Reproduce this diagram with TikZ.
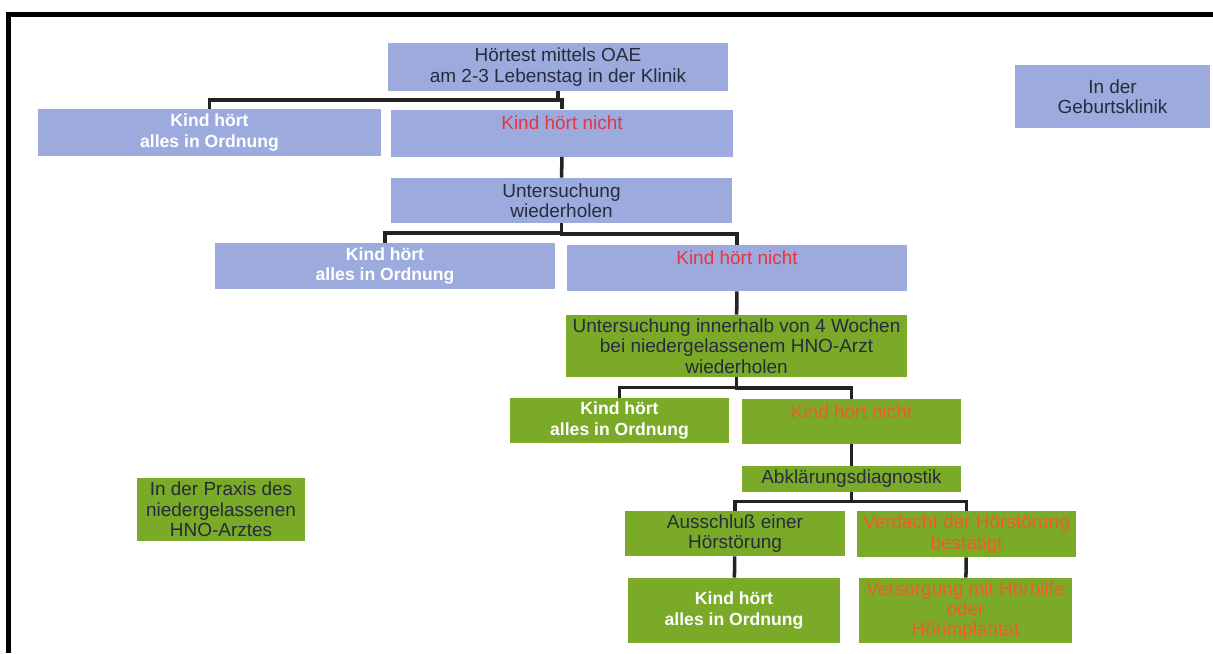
\documentclass[tikz,border=0pt]{standalone}
\usepackage{fontspec}
\setmainfont{Liberation Sans}
\usepackage{tikz}
\usetikzlibrary{calc}
\usepackage{xcolor}

\definecolor{klinikblue}{RGB}{157,170,222}
\definecolor{praxisgreen}{RGB}{122,170,40}
\definecolor{darktext}{RGB}{38,44,60}
\definecolor{alarmred}{RGB}{232,52,62}
\definecolor{alarmorange}{RGB}{240,92,40}
\definecolor{linegray}{RGB}{35,35,35}

\tikzset{
  box/.style={rectangle, inner sep=0pt, align=center, font=\fontsize{10.8}{11.6}\selectfont},
  bluebox/.style={box, fill=klinikblue, text=darktext},
  greenbox/.style={box, fill=praxisgreen, text=darktext},
  okbox/.style={text=white, font=\fontsize{10}{11.6}\selectfont\bfseries},
  conn/.style={line width=2pt, draw=linegray},
  elbow/.style={to path={(\tikztostart) |- ($(\tikztostart)!.5!(\tikztotarget)$) -| (\tikztotarget)}}
}

\begin{document}
\begin{tikzpicture}[x=0.02cm, y=-0.02cm]
  \useasboundingbox (0,0) rectangle (1213,653);

  % frame
  \draw[line width=2.3pt] (8.5,653) |- (1213,14.5);

  % in der Geburtsklinik
  \node[bluebox, minimum width=6.8cm, minimum height=0.96cm] (test) at (558,67)
  {Hörtest mittels OAE\\am 2-3 Lebenstag in der Klinik};
  \node[bluebox, okbox, minimum width=6.86cm, minimum height=0.94cm] (ok1) at (209.5,132.5)
  {Kind hört\\alles in Ordnung};
  \node[bluebox, text=alarmred, minimum width=6.84cm, minimum height=0.94cm] (nicht1) at (562,133)
  {Kind hört nicht\\\phantom{A}};
  \node[bluebox, minimum width=6.82cm, minimum height=0.9cm] (wdh) at (561.5,200.5)
  {Untersuchung\\wiederholen};
  \node[bluebox, okbox, minimum width=6.8cm, minimum height=0.92cm] (ok2) at (385,266)
  {Kind hört\\alles in Ordnung};
  \node[bluebox, text=alarmred, minimum width=6.8cm, minimum height=0.92cm] (nicht2) at (737,268)
  {Kind hört nicht\\\phantom{A}};

  % beim HNO-Arzt
  \node[greenbox, minimum width=6.82cm, minimum height=1.24cm] (hno) at (736.5,346)
  {Untersuchung innerhalb von 4 Wochen\\bei niedergelassenem HNO-Arzt\\wiederholen};
  \node[greenbox, okbox, minimum width=4.38cm, minimum height=0.9cm] (ok3) at (619.5,420.5)
  {Kind hört\\alles in Ordnung};
  \node[greenbox, text=alarmorange, minimum width=4.38cm, minimum height=0.9cm] (nicht3) at (851.5,421.5)
  {Kind hört nicht\\\phantom{A}};
  \node[greenbox, minimum width=4.38cm, minimum height=0.52cm] (abkl) at (851.5,479)
  {Abklärungsdiagnostik};
  \node[greenbox, minimum width=4.4cm, minimum height=0.9cm] (aus) at (735,533.5)
  {Ausschluß einer\\Hörstörung};
  \node[greenbox, text=alarmorange, minimum width=4.38cm, minimum height=0.92cm] (verd) at (966.5,534)
  {Verdacht der Hörstörung\\bestätigt};
  \node[greenbox, okbox, minimum width=4.24cm, minimum height=1.3cm] (ok4) at (734,610.5)
  {Kind hört\\alles in Ordnung};
  \node[greenbox, text=alarmorange, minimum width=4.26cm, minimum height=1.3cm] (vers) at (965.5,610.5)
  {Versorgung mit Hörhilfe\\oder\\Hörimplantat};

  % legend boxes
  \node[bluebox, minimum width=3.9cm, minimum height=1.26cm] (geb) at (1112.5,96.5)
  {In der\\Geburtsklinik};
  \node[greenbox, minimum width=3.36cm, minimum height=1.26cm] (praxis) at (221,509.5)
  {In der Praxis des\\niedergelassenen\\HNO-Arztes};

  % connectors
  \draw[conn] (test.south) to[elbow] (ok1.north);
  \draw[conn] (test.south) to[elbow] (nicht1.north);
  \draw[conn] (nicht1) -- (wdh);
  \draw[conn] (wdh.south) to[elbow] (ok2.north);
  \draw[conn] (wdh.south) to[elbow] (nicht2.north);
  \draw[conn] (nicht2) -- (hno);
  \draw[conn] (hno.south) to[elbow] (ok3.north);
  \draw[conn] (hno.south) to[elbow] (nicht3.north);
  \draw[conn] (nicht3) -- (abkl);
  \draw[conn] (abkl.south) to[elbow] (aus.north);
  \draw[conn] (abkl.south) to[elbow] (verd.north);
  \draw[conn] (aus) -- (ok4);
  \draw[conn] (verd) -- (vers);
\end{tikzpicture}
\end{document}
